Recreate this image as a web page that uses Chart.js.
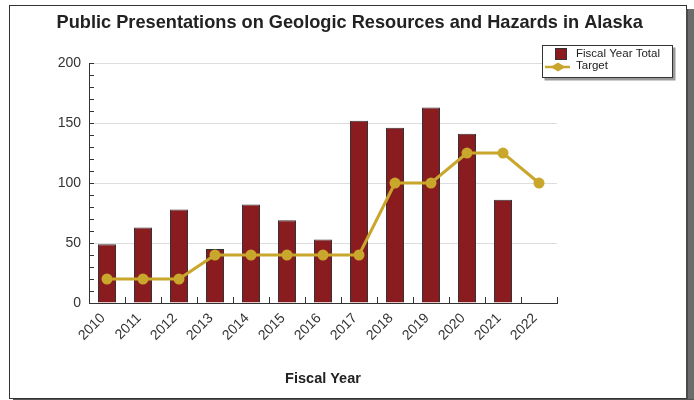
<!DOCTYPE html>
<html>
<head>
<meta charset="utf-8">
<script src="https://cdn.jsdelivr.net/npm/chart.js@4"></script>
<style>
  html, body { margin: 0; padding: 0; background: #fff; }
  #wrap { position: relative; width: 694px; height: 400px; overflow: hidden; }
  #c { position: absolute; left: 0; top: 0; }
  #frame { position: absolute; left: 9px; top: 5px; width: 676px; height: 392px; border: 1px solid #333; pointer-events: none; }
  #shadowR { position: absolute; left: 686px; top: 9px; width: 8px; height: 391px; background: linear-gradient(to right, #4a4a4a 0, #4a4a4a 2px, #6c6c6c 2px, #6c6c6c 100%); }
  #shadowB { position: absolute; left: 13px; top: 399px; width: 681px; height: 1px; background: #555; }
</style>
</head>
<body>
<div id="wrap">
  <canvas id="c" width="694" height="400"></canvas>
  <div id="frame"></div>
  <div id="shadowR"></div>
  <div id="shadowB"></div>
</div>
<script>
const categories = ['2010','2011','2012','2013','2014','2015','2016','2017','2018','2019','2020','2021','2022'];
const fiscalYearTotal = [49, 63, 78, 45, 82, 69, 53, 152, 146, 163, 141, 86, null];
const target = [20, 20, 20, 40, 40, 40, 40, 40, 100, 100, 125, 125, 100];
const yTickLabels = [0, 50, 100, 150, 200];

const FONT = "'Liberation Sans', Arial, sans-serif";
const BAR_COLOR = '#8a1c20';
const LINE_COLOR = '#c9a62c';

const innerTicks = {
  id: 'innerTicks',
  afterDatasetsDraw(chart) {
    const ctx = chart.ctx, x = chart.scales.x, y = chart.scales.y, a = chart.chartArea;
    ctx.save();
    ctx.strokeStyle = '#333';
    ctx.lineWidth = 1;
    ctx.beginPath();
    for (let v = 0; v <= 200; v += 10) {
      const py = Math.round(y.getPixelForValue(v)) + 0.5;
      ctx.moveTo(a.left, py); ctx.lineTo(a.left + 5, py);
    }
    const n = categories.length;
    for (let i = 1; i <= n; i++) {
      let px;
      if (i === n) px = a.right;
      else px = (x.getPixelForValue(i - 1) + x.getPixelForValue(i)) / 2;
      px = Math.round(px) + 0.5;
      ctx.moveTo(px, a.bottom); ctx.lineTo(px, a.bottom - 6);
    }
    ctx.stroke();
    ctx.restore();
  }
};

const boxLegend = {
  id: 'boxLegend',
  afterDraw(chart) {
    const ctx = chart.ctx;
    const bx = 542.5, by = 45.5, bw = 130, bh = 32;
    ctx.save();
    ctx.fillStyle = '#9a9a9a';
    ctx.fillRect(bx + 2, by + 2, bw + 1, bh + 1);
    ctx.fillStyle = '#fff';
    ctx.fillRect(bx, by, bw, bh);
    ctx.strokeStyle = '#333';
    ctx.lineWidth = 1;
    ctx.strokeRect(bx, by, bw, bh);
    const labels = chart.data.datasets.map(d => d.label);
    ctx.fillStyle = BAR_COLOR;
    ctx.fillRect(555, 48.5, 11, 11);
    ctx.strokeStyle = '#333';
    ctx.strokeRect(555.5, 48.5, 11, 11);
    ctx.strokeStyle = LINE_COLOR;
    ctx.lineWidth = 2.5;
    ctx.beginPath(); ctx.moveTo(545, 67); ctx.lineTo(570, 67); ctx.stroke();
    ctx.fillStyle = LINE_COLOR;
    ctx.beginPath();
    ctx.moveTo(558, 62.5); ctx.lineTo(565.5, 67); ctx.lineTo(558, 71.5); ctx.lineTo(550.5, 67);
    ctx.closePath(); ctx.fill();
    ctx.fillStyle = '#222';
    ctx.font = '11.5px ' + FONT;
    ctx.textBaseline = 'middle';
    ctx.fillText(labels[1], 576, 53.5);
    ctx.fillText(labels[0], 576, 65.5);
    ctx.restore();
  }
};

new Chart(document.getElementById('c'), {
  type: 'bar',
  data: {
    labels: categories,
    datasets: [
      {
        type: 'line',
        label: 'Target',
        data: target,
        borderColor: LINE_COLOR,
        backgroundColor: LINE_COLOR,
        borderWidth: 3,
        pointRadius: 5.5,
        pointBorderWidth: 0,
        pointStyle: 'circle',
        tension: 0,
        order: 0
      },
      {
        label: 'Fiscal Year Total',
        data: fiscalYearTotal,
        backgroundColor: BAR_COLOR,
        borderColor: '#333',
        borderWidth: 1,
        barPercentage: 0.5,
        categoryPercentage: 1,
        order: 1
      }
    ]
  },
  options: {
    responsive: false,
    animation: false,
    devicePixelRatio: 1,
    layout: { padding: { left: 5.4, right: 0, top: 0, bottom: 10 } },
    plugins: {
      legend: { display: false },
      tooltip: { enabled: false },
      title: {
        display: true,
        text: 'Public Presentations on Geologic Resources and Hazards in Alaska',
        font: { family: FONT, size: 18.2, weight: 'bold' },
        color: '#222',
        padding: { top: 12, bottom: 29.2 }
      }
    },
    scales: {
      x: {
        offset: true,
        grid: { display: false, drawTicks: false },
        border: { display: true, color: '#333', width: 1 },
        ticks: {
          font: { family: FONT, size: 14 },
          color: '#333',
          minRotation: 45,
          maxRotation: 45,
          padding: 7,
          labelOffset: -4,
          autoSkip: false
        },
        title: {
          display: true,
          text: 'Fiscal Year',
          font: { family: FONT, size: 14.5, weight: 'bold' },
          color: '#222',
          padding: { top: 0, bottom: 2 }
        },
        afterFit(s) { s.height = 87; }
      },
      y: {
        min: 0,
        max: 200,
        grid: { color: '#dddddd', drawTicks: false },
        border: { display: true, color: '#333', width: 1 },
        ticks: {
          stepSize: 50,
          font: { family: FONT, size: 14 },
          color: '#333',
          padding: 8,
          callback: (v) => yTickLabels.includes(v) ? String(v) : ''
        },
        afterFit(s) { s.width = 83.6; }
      },
      y2: {
        position: 'right',
        display: true,
        min: 0,
        max: 200,
        grid: { display: false, drawTicks: false },
        border: { display: false },
        ticks: { display: false },
        afterFit(s) { s.width = 137; }
      }
    }
  },
  plugins: [innerTicks, boxLegend]
});
</script>
</body>
</html>
